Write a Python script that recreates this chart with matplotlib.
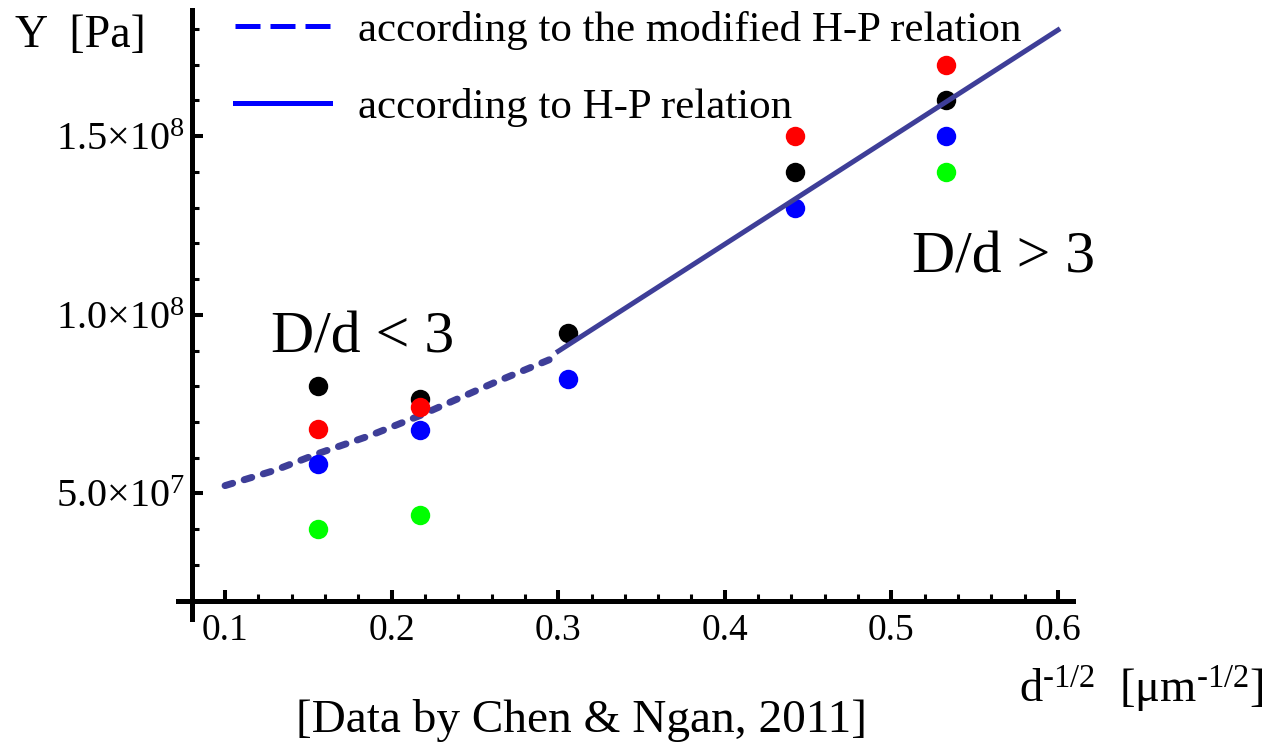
import numpy as np
import matplotlib
matplotlib.use("Agg")
from matplotlib import pyplot as plt
from matplotlib.lines import Line2D
from matplotlib.ticker import MultipleLocator, FuncFormatter

plt.rcParams["font.family"] = "Liberation Serif"
plt.rcParams["mathtext.fontset"] = "custom"
plt.rcParams["mathtext.rm"] = "Liberation Serif"
plt.rcParams["mathtext.default"] = "regular"

# measured yield stress, four data sets (Chen & Ngan, 2011)
x_black = [0.156, 0.217, 0.306, 0.442, 0.533]
y_black = [8.0e7, 7.65e7, 9.5e7, 1.40e8, 1.60e8]
x_red = [0.156, 0.217, 0.442, 0.533]
y_red = [6.8e7, 7.43e7, 1.50e8, 1.70e8]
x_blue = [0.156, 0.217, 0.306, 0.442, 0.533]
y_blue = [5.83e7, 6.78e7, 8.2e7, 1.30e8, 1.50e8]
x_green = [0.156, 0.217, 0.533]
y_green = [4.0e7, 4.4e7, 1.40e8]

# modified H-P relation (D/d < 3)
mod_x = [0.1, 0.13, 0.156, 0.187, 0.217, 0.261, 0.295]
mod_y = [5.22e7, 5.65e7, 6.12e7, 6.62e7, 7.18e7, 8.09e7, 8.75e7]

# classic H-P relation (D/d > 3)
hp_x = [0.3, 0.6]
hp_y = [8.98e7, 1.797e8]

line_color = "#3e3e98"


def sci_label(v, pos):
    if v <= 0:
        return ""
    exp = int(np.floor(np.log10(v)))
    return f"{v / 10**exp:.1f}×10$^{{{exp}}}$"


fig = plt.figure(figsize=(12.68, 7.44), dpi=100)
ax = fig.add_axes([0.1512, 0.1926, 0.695, 0.794])

ax.plot(mod_x, mod_y, color=line_color, lw=5, dashes=(1.15, 1.73),
        dash_capstyle="round", zorder=2)
for xs, ys, c in [(x_black, y_black, "#000000"), (x_red, y_red, "#ff0000"),
                  (x_blue, y_blue, "#0000ff"), (x_green, y_green, "#00ff00")]:
    ax.plot(xs, ys, "o", color=c, ms=14, mec="none", zorder=3)
ax.plot(hp_x, hp_y, color=line_color, lw=3.6, zorder=4)

ax.set_xlim(0.08, 0.609)
ax.set_ylim(2.0e7, 1.853e8)

for s in ["top", "right"]:
    ax.spines[s].set_visible(False)
for s in ["left", "bottom"]:
    ax.spines[s].set_linewidth(3.6)
ax.spines["bottom"].set_bounds(0.0716, 0.609)
ax.spines["left"].set_bounds(1.5e7, 1.853e8)

ax.xaxis.set_major_locator(MultipleLocator(0.1))
ax.xaxis.set_minor_locator(MultipleLocator(0.02))
ax.yaxis.set_major_locator(MultipleLocator(5e7))
ax.yaxis.set_minor_locator(MultipleLocator(1e7))
ax.yaxis.set_major_formatter(FuncFormatter(sci_label))
ax.tick_params(which="major", direction="in", length=8, width=2.9)
ax.tick_params(which="minor", direction="in", length=5, width=2.2)
ax.tick_params(axis="x", pad=9, labelsize=27)
ax.tick_params(axis="y", pad=5, labelsize=29)

handles = [Line2D([], [], color="#0000ff", lw=3.6, dashes=(5, 2)),
           Line2D([], [], color="#0000ff", lw=3.6)]
ax.legend(handles, ["according to the modified H-P relation", "according to H-P relation"],
          loc="upper left", bbox_to_anchor=(235 / 1268, 1 - 11 / 744),
          bbox_transform=fig.transFigure, frameon=False, fontsize=31,
          borderpad=0, borderaxespad=0, handlelength=2.2, handletextpad=0.65,
          labelspacing=0.88)

ax.text(0.1278, 8.95e7, "D/d < 3", fontsize=43, va="baseline")
ax.text(0.5122, 1.118e8, "D/d > 3", fontsize=43, va="baseline")

fig.text(15 / 1268, 1 - 47 / 744, "Y  [Pa]", fontsize=33, va="baseline")
fig.text(1019 / 1268, 1 - 703 / 744, r"d$^{\text{-}1/2}$  [μm$^{\text{-}1/2}$]",
         fontsize=33.5, va="baseline")
fig.text(581 / 1268, 1 - 732 / 744, "[Data by Chen & Ngan, 2011]", fontsize=34,
         ha="center", va="baseline")

fig.savefig("out.png", dpi=100)
